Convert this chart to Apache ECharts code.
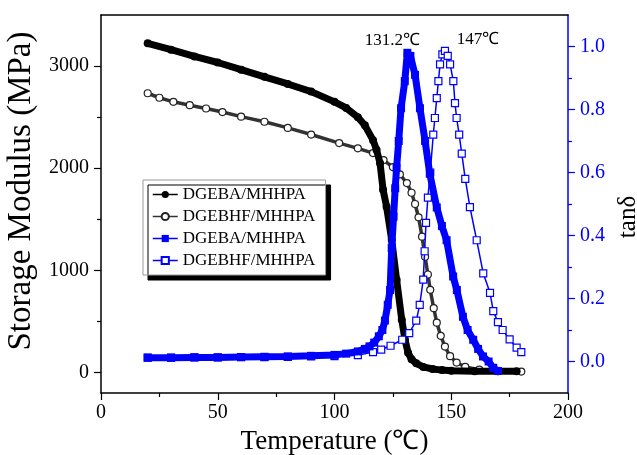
<!DOCTYPE html>
<html>
<head>
<meta charset="utf-8">
<script src="https://cdn.jsdelivr.net/npm/echarts@6/dist/echarts.min.js"></script>
<style>html,body{margin:0;padding:0;background:#fff}#c{width:637px;height:455px}</style>
</head>
<body>
<div id="c"></div>
<script>
// ---- Data ----
const xTicks = [0, 50, 100, 150, 200];
const leftTicks = [0, 1000, 2000, 3000];
const leftMinor = [500, 1500, 2500];
const rightTicks = [0, 0.2, 0.4, 0.6, 0.8, 1.0];
const rightMinor = [0.1, 0.3, 0.5, 0.7, 0.9];

const seriesNames = ['DGEBA/MHHPA', 'DGEBHF/MHHPA', 'DGEBA/MHHPA ', 'DGEBHF/MHHPA '];

// Storage modulus, DGEBA/MHHPA (filled circles)
const tempA = [20,30,40,50,60,70,80,90,100,105,110,113,116.5,118,119.5,120.8,122.3,124.5,126.6,128.8,130.2,131.5,133,135,138,142,146,150,160,170,178];
const modA  = [3223,3160,3095,3035,2965,2895,2825,2750,2650,2590,2500,2420,2275,2180,2050,1790,1624,1299,908,518,320,195,130,90,55,35,24,18,14,12,12];

// Storage modulus, DGEBHF/MHHPA (open circles)
const tempB = [20,25,31,38,45,52,60,70,80,90,102,110,116.5,121,125,128,131,133,134.5,136,137.5,138.8,140,141,142.5,143.8,145.5,147.3,149.5,152.3,156,162,170,180];
const modB  = [2734,2690,2650,2617,2585,2550,2505,2455,2395,2330,2246,2195,2148,2080,2011,1940,1855,1760,1650,1520,1330,1133,960,810,630,488,360,254,160,98,55,29,15,10];

// tan delta, DGEBA/MHHPA (filled squares)
const tempC = [20,30,40,50,60,70,80,90,100,105,110,113,115,117,119,120.5,121.6,122.8,123.8,124.5,125.3,126,126.6,127.5,128.5,130.1,131.2,132.5,134.5,136.6,138.8,140.8,143.8,146,148,150.8,152.4,155,157,159.4,161.5,163.6,166,168,170];
const tanC  = [0.012,0.012,0.013,0.013,0.014,0.015,0.016,0.018,0.021,0.025,0.032,0.04,0.048,0.06,0.08,0.1,0.13,0.18,0.227,0.36,0.46,0.55,0.615,0.70,0.804,0.89,0.98,0.97,0.91,0.804,0.70,0.596,0.489,0.43,0.385,0.27,0.227,0.142,0.1,0.069,0.04,0.016,0,-0.02,-0.03];

// tan delta, DGEBHF/MHHPA (open squares)
const tempD = [20,30,40,50,60,70,80,90,100,110,116.5,120,124,129,132,135,136.5,138,138.6,139.2,140,141,142.3,143,143.8,144.5,145.2,146.2,147.3,148.5,149.5,150.9,151.6,152.3,153.4,154.5,156,158,160.9,163.7,166.6,168,170,172,175,178,180];
const tanD  = [0.012,0.012,0.013,0.013,0.014,0.014,0.015,0.016,0.017,0.02,0.03,0.038,0.05,0.069,0.09,0.13,0.18,0.26,0.35,0.44,0.52,0.6,0.72,0.773,0.836,0.89,0.943,0.975,0.986,0.97,0.943,0.89,0.82,0.773,0.72,0.66,0.58,0.49,0.385,0.28,0.218,0.16,0.125,0.1,0.07,0.044,0.03];

const peakLabels = [
  { text: '131.2℃', coord: [131.2, 0.98] },
  { text: '147℃', coord: [147.3, 0.986] }
];

// ---- Chart ----
const FONT = "'Liberation Serif','Times New Roman',serif";
const BLUE = '#0000ff';
const zip = (xs, ys) => xs.map((x, i) => [x, ys[i]]);

const chart = echarts.init(document.getElementById('c'), null, { renderer: 'canvas' });

const option = {
  backgroundColor: '#fff',
  animation: false,
  grid: { left: 101, right: 69, top: 15, bottom: 62, containLabel: false, outerBoundsMode: 'none' },
  legend: {
    orient: 'vertical', left: 143, top: 180,
    padding: [6, 6, 6, 9], itemGap: 5, itemWidth: 25, itemHeight: 9,
    backgroundColor: '#fff', borderColor: '#999', borderWidth: 1,
    shadowColor: '#000', shadowOffsetX: 5, shadowOffsetY: 5, shadowBlur: 0,
    lineStyle: { width: 1.5 },
    textStyle: { fontFamily: FONT, fontSize: 17, color: '#000' },
    data: seriesNames
  },
  xAxis: [{
    type: 'value', min: 0, max: 200, interval: 50, position: 'bottom',
    name: 'Temperature (℃)', nameLocation: 'middle', nameGap: 35,
    nameTextStyle: { fontFamily: FONT, fontSize: 27, color: '#000' },
    axisLine: { onZero: false, lineStyle: { color: '#000', width: 1.5 } },
    axisTick: { inside: false, length: 7, lineStyle: { color: '#000', width: 1.2 } },
    minorTick: { show: true, splitNumber: 2, length: 4, lineStyle: { color: '#000', width: 1.2 } },
    axisLabel: { margin: 10, fontFamily: FONT, fontSize: 20, color: '#000' },
    splitLine: { show: false }
  }, {
    type: 'value', min: 0, max: 200, position: 'top',
    axisLine: { show: true, onZero: false, lineStyle: { color: '#000', width: 1.5 } },
    axisTick: { show: false }, axisLabel: { show: false }, splitLine: { show: false }
  }],
  yAxis: [{
    type: 'value', min: -200, max: 3500, position: 'left',
    name: 'Storage Modulus (MPa)', nameLocation: 'middle', nameGap: 54, nameRotate: 90,
    nameTextStyle: { fontFamily: FONT, fontSize: 33, color: '#000', padding: [0, 0, 0, 26] },
    axisLine: { show: true, onZero: false, lineStyle: { color: '#000', width: 1.5 } },
    axisTick: { show: true, length: 7, customValues: leftTicks, lineStyle: { color: '#000', width: 1.2 } },
    axisLabel: { margin: 12, customValues: leftTicks, formatter: v => String(Math.round(v)), fontFamily: FONT, fontSize: 20, color: '#000' },
    splitLine: { show: false }
  }, {
    type: 'value', min: -0.1, max: 1.1, position: 'right',
    name: 'tanδ', nameLocation: 'middle', nameGap: 46, nameRotate: 90,
    nameTextStyle: { fontFamily: FONT, fontSize: 25, color: '#000', padding: [0, 26, 0, 0] },
    axisLine: { show: true, onZero: false, lineStyle: { color: BLUE, width: 1.5 } },
    axisTick: { show: true, length: 7, customValues: rightTicks, lineStyle: { color: BLUE, width: 1.2 } },
    axisLabel: { margin: 12, customValues: rightTicks, formatter: v => v.toFixed(1), fontFamily: FONT, fontSize: 20, color: BLUE },
    splitLine: { show: false }
  }, {
    type: 'value', min: -200, max: 3500, position: 'left',
    axisLine: { show: false, onZero: false },
    axisTick: { show: true, length: 4, customValues: leftMinor, lineStyle: { color: '#000', width: 1.2 } },
    axisLabel: { show: false }, splitLine: { show: false }
  }, {
    type: 'value', min: -0.1, max: 1.1, position: 'right',
    axisLine: { show: false, onZero: false },
    axisTick: { show: true, length: 4, customValues: rightMinor, lineStyle: { color: BLUE, width: 1.2 } },
    axisLabel: { show: false }, splitLine: { show: false }
  }],
  series: [
    {
      name: seriesNames[0], type: 'line', xAxisIndex: 0, yAxisIndex: 0,
      data: zip(tempA, modA), showAllSymbol: true,
      symbol: 'circle', symbolSize: 8,
      itemStyle: { color: '#000' },
      lineStyle: { color: '#000', width: 7 },
      z: 3
    },
    {
      name: seriesNames[1], type: 'line', xAxisIndex: 0, yAxisIndex: 0,
      data: zip(tempB, modB), showAllSymbol: true,
      symbol: 'circle', symbolSize: 7,
      itemStyle: { color: '#fff', borderColor: '#222', borderWidth: 1.2 },
      lineStyle: { color: '#333', width: 3.5 },
      z: 2
    },
    {
      name: seriesNames[2], type: 'line', xAxisIndex: 0, yAxisIndex: 1,
      data: zip(tempC, tanC), showAllSymbol: true,
      symbol: 'rect', symbolSize: 8,
      itemStyle: { color: BLUE },
      lineStyle: { color: BLUE, width: 7 },
      z: 4,
      markPoint: {
        symbol: 'circle', symbolSize: 0,
        label: { show: true, position: 'inside', offset: [-15, -12], fontFamily: FONT, fontSize: 17, color: '#000' },
        data: [{ coord: peakLabels[0].coord, value: peakLabels[0].text, label: { formatter: peakLabels[0].text } }]
      }
    },
    {
      name: seriesNames[3], type: 'line', xAxisIndex: 0, yAxisIndex: 1,
      data: zip(tempD, tanD), showAllSymbol: true,
      symbol: 'rect', symbolSize: 7,
      itemStyle: { color: '#fff', borderColor: BLUE, borderWidth: 1.2 },
      lineStyle: { color: BLUE, width: 1.5 },
      z: 3,
      markPoint: {
        symbol: 'circle', symbolSize: 0,
        label: { show: true, position: 'inside', offset: [33, -11], fontFamily: FONT, fontSize: 17, color: '#000' },
        data: [{ coord: peakLabels[1].coord, value: peakLabels[1].text, label: { formatter: peakLabels[1].text } }]
      }
    }
  ]
};
chart.setOption(option);
</script>
</body>
</html>
